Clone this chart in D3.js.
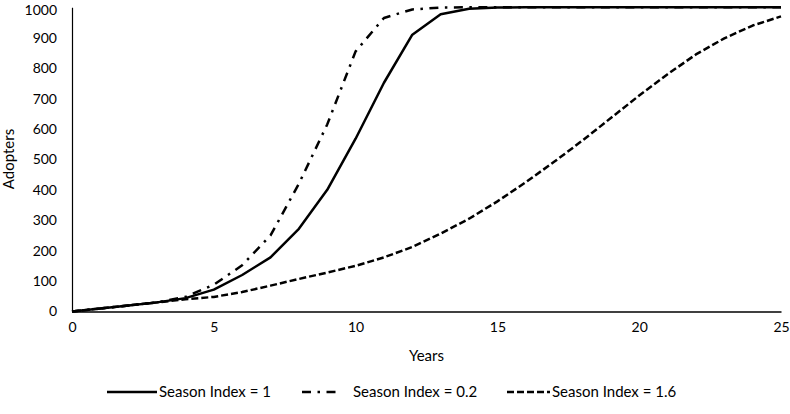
<!DOCTYPE html>
<html><head><meta charset="utf-8">
<script src="https://cdn.jsdelivr.net/npm/d3@7"></script>
<style>html,body{margin:0;padding:0;background:#fff;} svg{display:block;}</style>
</head><body>
<svg id="chart" width="790" height="414"></svg>
<script>
const years = d3.range(0, 26);
const seriesNames = ["Season Index = 1", "Season Index = 0.2", "Season Index = 1.6"];
const index1 = [0,10,20,30,44,72,120,178,272,400,568,752,910,977,995,999,1000,1000,1000,1000,1000,1000,1000,1000,1000,1000];
const index02 = [0,10,20,30,48,88,152,250,420,615,855,965,993,999,1000,1000,1000,1000,1000,1000,1000,1000,1000,1000,1000,1000];
const index16 = [0,10,20,30,40,48,64,85,107,128,150,178,212,256,305,362,425,492,562,636,710,780,845,898,940,970];
const xTicks = [0,5,10,15,20,25];
const yTicks = [0,100,200,300,400,500,600,700,800,900,1000];
const dashes = [null, "9,6.5,2.5,6.5", "7,3"];

const svg = d3.select("#chart");
const font = "Lato, 'Open Sans', sans-serif";
const x = d3.scaleLinear().domain([0,25]).range([72,781]);
const y = d3.scaleLinear().domain([0,1000]).range([311.5,7.3]);

// y axis
const ya = svg.append("g").attr("transform","translate(72,0)")
  .call(d3.axisLeft(y).tickValues(yTicks).tickFormat(d3.format("d")).tickSize(0).tickPadding(15));
ya.select(".domain").attr("stroke","#000").attr("stroke-width",1.2);
ya.selectAll("text").attr("font-family",font).attr("font-size",14).attr("fill","#000");
ya.selectAll(".tick").filter(d=>d===1000).select("text").attr("y",2.5);

// x axis
const xa = svg.append("g").attr("transform","translate(0,311.5)")
  .call(d3.axisBottom(x).tickValues(xTicks).tickFormat(d3.format("d")).tickSize(0).tickPadding(11));
xa.select(".domain").attr("stroke","#404040").attr("stroke-width",2);
xa.selectAll("text").attr("font-family",font).attr("font-size",14).attr("fill","#000");

svg.append("text").attr("x",426.5).attr("y",361).attr("text-anchor","middle")
  .attr("font-family",font).attr("font-size",15).text("Years");
svg.append("text").attr("transform","translate(14,159) rotate(-90)").attr("text-anchor","middle")
  .attr("font-family",font).attr("font-size",15).text("Adopters");

const data = [index1, index02, index16];
const line = d3.line().x((d,i)=>x(years[i])).y(d=>y(d));
data.forEach((vals,k)=>{
  svg.append("path").datum(vals).attr("d",line)
    .attr("fill","none").attr("stroke","#000").attr("stroke-width",2.5)
    .attr("stroke-linejoin","round")
    .attr("stroke-dasharray",dashes[k]);
});

// legend
const legendItems = [
  {x0:107, x1:157, tx:159},
  {x0:302, x1:342, tx:353},
  {x0:507, x1:550, tx:552}
];
const ly = 392;
legendItems.forEach((it,k)=>{
  svg.append("line").attr("x1",it.x0).attr("x2",it.x1).attr("y1",ly).attr("y2",ly)
    .attr("stroke","#000").attr("stroke-width",2.5).attr("stroke-dasharray",dashes[k]);
  svg.append("text").attr("x",it.tx).attr("y",ly+5).attr("font-family",font)
    .attr("font-size",15).attr("fill","#000").text(seriesNames[k]);
});
</script>
</body></html>
